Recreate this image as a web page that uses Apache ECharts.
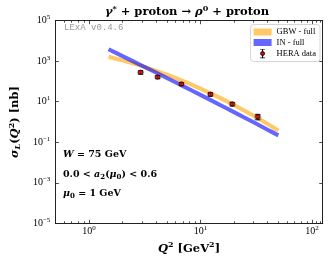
<!DOCTYPE html>
<html><head><meta charset="utf-8">
<script src="https://cdn.jsdelivr.net/npm/echarts@6/dist/echarts.min.js"></script>
<style>html,body{margin:0;padding:0;background:#fff}#c{width:329px;height:260px}</style>
</head><body><div id="c"></div>
<script>
// ---- data ----
const heraQ2 = [2.91, 4.14, 6.75, 12.3, 19.3, 32.7];
const heraSigma = [284, 166, 75.2, 23.3, 7.73, 1.83];
const heraErr = [55, 30, 13, 4.5, 1.6, 0.55];
const modelQ2 = [1.5, 2, 3, 5, 7, 10, 15, 20, 30, 40, 50];
const gbwSigma = [1670, 1106, 570, 215, 104, 44.6, 15.6, 6.95, 2.05, 0.81, 0.384];
const inSigma = [3865, 1792, 601, 149, 58.9, 21.8, 6.95, 3.07, 0.962, 0.419, 0.219];
const xMajorTicks = [1, 10, 100];
const xMinorTicks = [0.5, 0.6, 0.7, 0.8, 0.9, 2, 3, 4, 5, 6, 7, 8, 9, 20, 30, 40, 50, 60, 70, 80, 90, 110, 120];
const yMajorTicks = [1e-5, 1e-3, 1e-1, 1e1, 1e3, 1e5];
const xRange = [0.5, 125];
const yRange = [1e-5, 1e5];

const F = '"Liberation Serif", "DejaVu Serif", serif';
const FD = '"DejaVu Serif", serif';
const GBW_C = 'rgba(255,165,0,0.6)';
const IN_C = 'rgba(0,0,255,0.6)';

function powLabel(v) {
  const e = Math.round(Math.log10(v));
  return '{b|10}{e|' + (e < 0 ? '\u2212' + (-e) : e) + '}';
}
const tickRich = {
  b: { fontFamily: F, fontSize: 10, color: '#000' },
  e: { fontFamily: F, fontSize: 7, color: '#000', padding: [0, 0, 7, 0] }
};
const lineSt = { lineStyle: { color: '#222', width: 1 } };

function xAx(pos, values, len, labels) {
  return {
    type: 'log', gridIndex: 0, position: pos, min: xRange[0], max: xRange[1],
    axisLine: lineSt, splitLine: { show: false }, minorTick: { show: false },
    axisTick: { show: true, inside: true, length: len, customValues: values, lineStyle: { color: '#222', width: 0.8 } },
    axisLabel: labels ? { show: true, customValues: values, formatter: powLabel, rich: tickRich, margin: 1 } : { show: false }
  };
}
function yAx(pos, values, len, labels) {
  return {
    type: 'log', gridIndex: 0, position: pos, min: yRange[0], max: yRange[1],
    axisLine: lineSt, splitLine: { show: false }, minorTick: { show: false },
    axisTick: { show: true, inside: true, length: len, customValues: values, lineStyle: { color: '#222', width: 0.8 } },
    axisLabel: labels ? { show: true, customValues: values, formatter: powLabel, rich: tickRich, margin: 5 } : { show: false }
  };
}

const xAxes = [xAx('bottom', xMajorTicks, 3.5, true), xAx('bottom', xMinorTicks, 2, false),
               xAx('top', xMajorTicks, 3.5, false), xAx('top', xMinorTicks, 2, false)];
xAxes[0].name = '{i|Q}{s|2}{r| [GeV}{s|2}{r|]}';
xAxes[0].nameLocation = 'middle';
xAxes[0].nameGap = 14;
xAxes[0].nameTextStyle = { rich: {
  i: { fontFamily: FD, fontSize: 11.5, fontWeight: 'bold', fontStyle: 'italic', color: '#000' },
  r: { fontFamily: FD, fontSize: 11.5, fontWeight: 'bold', color: '#000' },
  s: { fontFamily: FD, fontSize: 8, fontWeight: 'bold', color: '#000', padding: [0, 0, 7, 0] } } };

const yAxes = [yAx('left', yMajorTicks, 3.5, true), yAx('right', yMajorTicks, 3.5, false)];
yAxes[0].name = '{i|σ}{sub|L}{r|(}{i|Q}{s|2}{r|) [nb]}';
yAxes[0].nameLocation = 'middle';
yAxes[0].nameGap = 28;
yAxes[0].nameTextStyle = { rich: {
  i: { fontFamily: FD, fontSize: 11.5, fontWeight: 'bold', fontStyle: 'italic', color: '#000' },
  r: { fontFamily: FD, fontSize: 11.5, fontWeight: 'bold', color: '#000' },
  sub: { fontFamily: FD, fontSize: 8, fontWeight: 'bold', fontStyle: 'italic', color: '#000', padding: [5, 0, 0, 0] },
  s: { fontFamily: FD, fontSize: 8, fontWeight: 'bold', color: '#000', padding: [0, 0, 7, 0] } } };

const gbwData = modelQ2.map((q, i) => [q, gbwSigma[i]]);
const inData = modelQ2.map((q, i) => [q, inSigma[i]]);
const heraPts = heraQ2.map((q, i) => [q, heraSigma[i]]);
const heraBars = heraQ2.map((q, i) => [q, heraSigma[i] - heraErr[i], heraSigma[i] + heraErr[i]]);

const heraSvg = '<svg xmlns="http://www.w3.org/2000/svg" width="18" height="10" viewBox="0 0 18 10">' +
  '<line x1="9" y1="0.5" x2="9" y2="9.5" stroke="black" stroke-width="1"/>' +
  '<line x1="6.5" y1="0.5" x2="11.5" y2="0.5" stroke="black" stroke-width="1"/>' +
  '<line x1="6.5" y1="9.5" x2="11.5" y2="9.5" stroke="black" stroke-width="1"/>' +
  '<circle cx="9" cy="5" r="2" fill="#e00000" stroke="black" stroke-width="0.8"/></svg>';
const heraIcon = 'image://data:image/svg+xml;charset=utf-8,' + encodeURIComponent(heraSvg);

const annSub = { fontFamily: FD, fontSize: 7, fontWeight: 'bold', fill: '#000', padding: [5, 0, 0, 0] };
const annI = { fontFamily: FD, fontSize: 9.5, fontWeight: 'bold', fontStyle: 'italic', fill: '#000' };
const annR = { fontFamily: FD, fontSize: 9.5, fontWeight: 'bold', fill: '#000' };

const chart = echarts.init(document.getElementById('c'), null, { renderer: 'canvas' });
chart.setOption({
  animation: false,
  backgroundColor: '#fff',
  grid: { left: 51, right: 6.3, top: 20.7, bottom: 36.7, containLabel: false },
  title: {
    text: '{i|γ}{s|*}{r| + proton → }{i|ρ}{s|0}{r| + proton}',
    left: 187, top: 5, padding: 0, textAlign: 'center',
    textStyle: { rich: {
      i: { fontFamily: FD, fontSize: 11.5, fontWeight: 'bold', fontStyle: 'italic', color: '#000' },
      r: { fontFamily: FD, fontSize: 11.5, fontWeight: 'bold', color: '#000' },
      s: { fontFamily: FD, fontSize: 8, fontWeight: 'bold', color: '#000', padding: [0, 0, 7, 0] } } }
  },
  legend: {
    right: 9, top: 24.5, orient: 'vertical', itemWidth: 18, itemHeight: 10, itemGap: 1.5,
    padding: [3, 4, 3, 3], borderColor: '#ccc', borderWidth: 0.8, borderRadius: 3,
    backgroundColor: 'rgba(255,255,255,0.85)',
    textStyle: { fontFamily: F, fontSize: 8.5, color: '#000' },
    data: [
      { name: 'GBW - full', icon: 'path://M0,0H18V7H0Z' },
      { name: 'IN - full', icon: 'path://M0,0H18V7H0Z' },
      { name: 'HERA data', icon: heraIcon }
    ]
  },
  xAxis: xAxes,
  yAxis: yAxes,
  series: [
    { name: 'GBW - full', type: 'line', data: gbwData, symbol: 'none', smooth: 0.3,
      lineStyle: { color: GBW_C, width: 4, cap: 'butt' }, itemStyle: { color: GBW_C }, z: 2 },
    { name: 'IN - full', type: 'line', data: inData, symbol: 'none', smooth: 0.3,
      lineStyle: { color: IN_C, width: 4, cap: 'butt' }, itemStyle: { color: IN_C }, z: 3 },
    { name: 'HERA data', type: 'custom', data: heraBars, encode: { x: 0, y: [1, 2] }, z: 4,
      renderItem: function (params, api) {
        const x = api.value(0);
        const pLo = api.coord([x, api.value(1)]);
        const pHi = api.coord([x, api.value(2)]);
        const cap = 2.5, st = { stroke: '#000', lineWidth: 1 };
        return { type: 'group', children: [
          { type: 'rect', shape: { x: pLo[0] - 3.5, y: pHi[1], width: 7, height: pLo[1] - pHi[1] }, style: { fill: 'rgba(110,110,110,0.45)' } },
          { type: 'line', shape: { x1: pLo[0], y1: pLo[1], x2: pHi[0], y2: pHi[1] }, style: st },
          { type: 'line', shape: { x1: pLo[0] - cap, y1: pLo[1], x2: pLo[0] + cap, y2: pLo[1] }, style: st },
          { type: 'line', shape: { x1: pHi[0] - cap, y1: pHi[1], x2: pHi[0] + cap, y2: pHi[1] }, style: st }
        ] };
      } },
    { name: 'HERA data', type: 'scatter', data: heraPts, symbol: 'circle', symbolSize: 4.5, z: 5,
      itemStyle: { color: '#e00000', borderColor: '#000', borderWidth: 0.8 } }
  ],
  graphic: [
    { type: 'text', left: 64, top: 23, style: { text: 'LExA v0.4.6', font: '9px "Liberation Mono", monospace', fill: '#999' } },
    { type: 'text', x: 63, y: 155, style: { text: '{i|W}{r| = 75 GeV}', verticalAlign: 'middle', rich: { i: annI, r: annR } } },
    { type: 'text', x: 63, y: 175, style: { text: '{r|0.0 < }{i|a}{sub|2}{r|(}{i|μ}{sub|0}{r|) < 0.6}', verticalAlign: 'middle', rich: { i: annI, r: annR, sub: annSub } } },
    { type: 'text', x: 63, y: 194, style: { text: '{i|μ}{sub|0}{r| = 1 GeV}', verticalAlign: 'middle', rich: { i: annI, r: annR, sub: annSub } } }
  ]
});
</script></body></html>
